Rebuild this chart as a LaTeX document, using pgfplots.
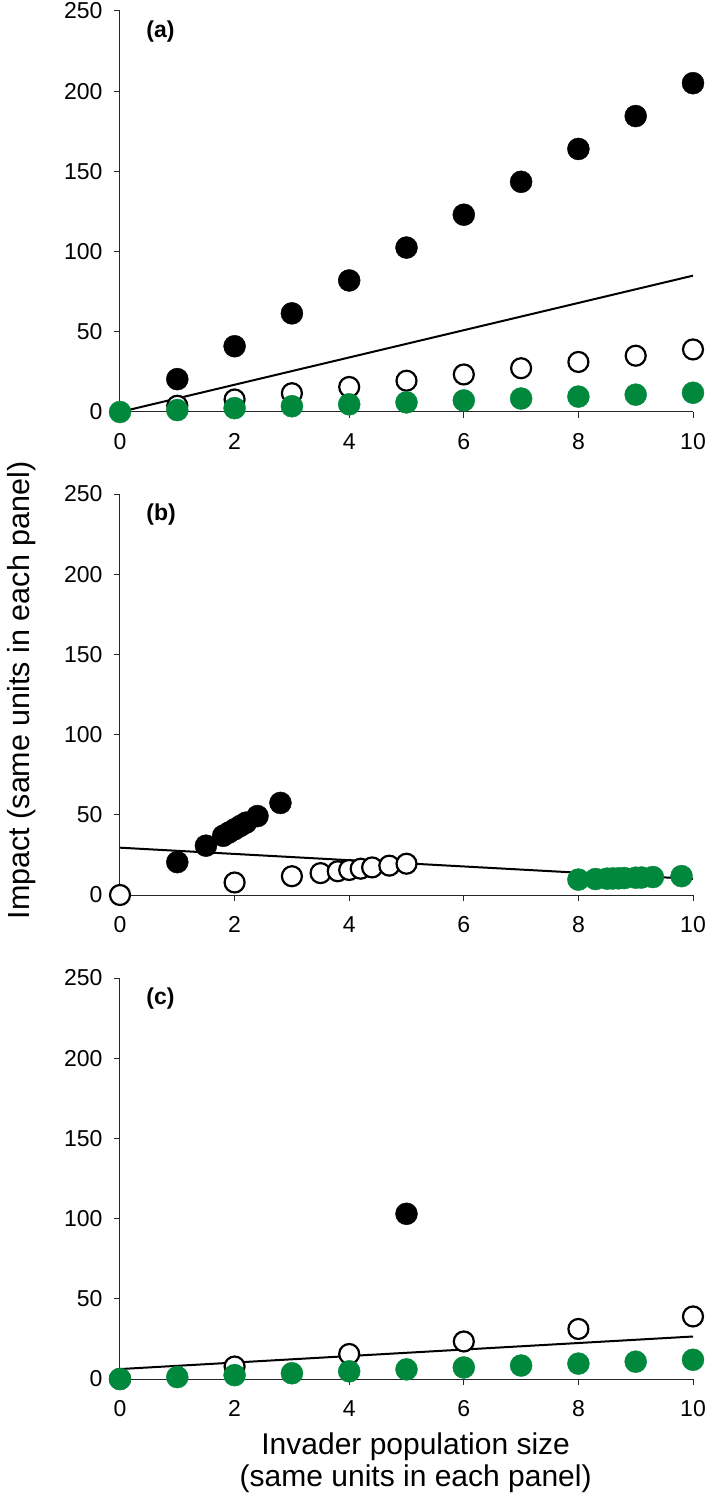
\documentclass[border=0pt]{standalone}
\usepackage{fontspec}
\setmainfont{Liberation Sans}
\usepackage{pgfplots}
\pgfplotsset{compat=1.18}
\definecolor{mygreen}{RGB}{0,137,61}
\tikzset{plab/.style={anchor=west, font=\bfseries\fontsize{23}{27}\selectfont}}
\pgfplotsset{
  panel/.style={
    scale only axis, width=573pt, height=401pt,
    xmin=0, xmax=10, ymin=0, ymax=250,
    axis x line=bottom, axis y line=left,
    axis line style={-, line width=1pt, black!85},
    xtick={0,2,...,10}, ytick={0,50,...,250},
    tick style={black!85, line width=1pt},
    tick align=outside, major tick length=6pt,
    ticklabel style={font=\fontsize{23}{27}\selectfont},
    xticklabel style={yshift=-12pt},
    yticklabel style={xshift=-8pt},
    /pgf/number format/assume math mode=true,
    clip=false,
  },
  fitline/.style={black, line width=2pt, no marks},
  blk/.style={only marks, mark=*, mark size=11pt, mark options={fill=black, draw=black}},
  opn/.style={only marks, mark=*, mark size=10pt, mark options={fill=white, draw=black, line width=2.2pt}},
  grn/.style={only marks, mark=*, mark size=11pt, mark options={fill=mygreen, draw=mygreen}},
}
\begin{document}
\begin{tikzpicture}
\path[use as bounding box] (-120pt,-1086pt) rectangle (589pt,412pt);
% ---------------- panel (a)
\begin{axis}[panel, at={(0pt,0pt)}]
\addplot[fitline] coordinates {(0,0) (10,85)};
\addplot[blk] coordinates {(1,20.5) (2,41) (3,61.5) (4,82) (5,102.5) (6,123) (7,143.5) (8,164) (9,184.5) (10,205)};
\addplot[opn] coordinates {(1,3.9) (2,7.8) (3,11.7) (4,15.6) (5,19.5) (6,23.4) (7,27.3) (8,31.2) (9,35.1) (10,39)};
\addplot[grn] coordinates {(0,0) (1,1.2) (2,2.4) (3,3.6) (4,4.8) (5,6) (6,7.2) (7,8.4) (8,9.6) (9,10.8) (10,12)};
\node[plab] at (axis cs:0.40,237) {(a)};
\end{axis}
% ---------------- panel (b)
\begin{axis}[panel, at={(0pt,-483pt)},
  ylabel={Impact (same units in each panel)},
  every axis y label/.style={at={(rel axis cs:-0.172,0.51)}, rotate=90, anchor=center, font=\fontsize{30.5}{36}\selectfont}]
\addplot[fitline] coordinates {(0,29.5) (10,10)};
\addplot[blk] coordinates {(1,20.5) (1.5,30.75) (1.8,36.9) (1.9,38.95) (2.0,41) (2.1,43.05) (2.2,45.1) (2.4,49.2) (2.8,57.4)};
\addplot[opn] coordinates {(0,0) (2,7.8) (3,11.7) (3.5,13.65) (3.8,14.8) (4.0,15.6) (4.2,16.4) (4.4,17.2) (4.7,18.3) (5,19.5)};
\addplot[grn] coordinates {(8,9.6) (8.3,9.96) (8.5,10.2) (8.6,10.3) (8.7,10.4) (8.8,10.56) (9.0,10.8) (9.1,10.9) (9.3,11.2) (9.8,11.76)};
\node[plab] at (axis cs:0.40,237) {(b)};
\end{axis}
% ---------------- panel (c)
\begin{axis}[panel, at={(0pt,-967pt)},
  xlabel={Invader population size\\(same units in each panel)},
  every axis x label/.style={at={(rel axis cs:0.516,-0.1347)}, anchor=north, align=center, inner sep=0pt, font=\fontsize{30}{32}\selectfont}]
\addplot[fitline] coordinates {(0,6.2) (10,26.5)};
\addplot[blk] coordinates {(5,103)};
\addplot[opn] coordinates {(0,0) (2,7.8) (4,15.6) (6,23.4) (8,31.2) (10,39)};
\addplot[grn] coordinates {(0,0) (1,1.2) (2,2.4) (3,3.6) (4,4.8) (5,6) (6,7.2) (7,8.4) (8,9.6) (9,10.8) (10,12)};
\node[plab] at (axis cs:0.40,237) {(c)};
\end{axis}
\end{tikzpicture}
\end{document}
